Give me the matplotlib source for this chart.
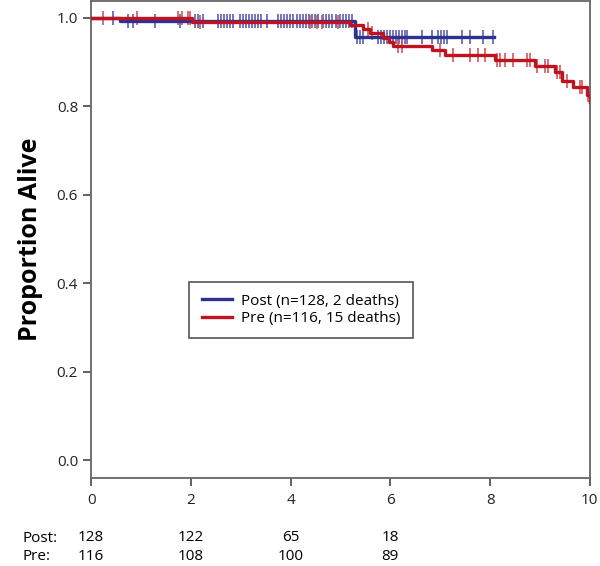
import numpy as np
import matplotlib as mpl
mpl.use('Agg')
import matplotlib.pyplot as plt

plt.rcParams['font.family'] = ['Open Sans', 'DejaVu Sans']

# Kaplan-Meier steps (time in years, survival after the step)
post_times = [0.0, 0.58, 5.29, 8.08]
post_surv = [1.0, 0.992, 0.956, 0.956]
pre_times = [0.0, 2.03, 5.19, 5.45, 5.59, 5.85, 5.98, 6.05, 6.83, 7.09, 8.10,
             8.90, 9.30, 9.44, 9.66, 9.94, 10.0]
pre_surv = [1.0, 0.991, 0.982, 0.973, 0.964, 0.953, 0.944, 0.935, 0.926, 0.915,
            0.904, 0.890, 0.876, 0.857, 0.843, 0.826, 0.810]

# censoring marks
post_cens = [0.44, 0.74, 0.84, 1.28, 1.78, 2.08, 2.14, 2.24, 2.55, 2.61, 2.67,
             2.73, 2.79, 2.85, 2.99, 3.05, 3.11, 3.17, 3.23, 3.29, 3.35, 3.41,
             3.53, 3.75, 3.81, 3.87, 3.93, 3.99, 4.05, 4.13, 4.19, 4.25, 4.31,
             4.37, 4.43, 4.49, 4.55, 4.65, 4.71, 4.77, 4.83, 4.91, 4.99, 5.05,
             5.11, 5.17, 5.23, 5.33, 5.39, 5.45, 5.75, 5.81, 5.87, 5.93, 5.99,
             6.05, 6.11, 6.17, 6.23, 6.29, 6.33, 6.63, 6.83, 6.95, 7.01, 7.07,
             7.13, 7.43, 7.60, 7.86, 8.06]
pre_cens = [0.24, 0.92, 1.74, 1.82, 1.94, 1.98, 2.18, 4.39, 4.53, 4.63, 4.95,
            5.55, 5.63, 6.15, 6.23, 6.99, 7.25, 7.60, 7.76, 7.90, 8.14, 8.20,
            8.30, 8.46, 8.74, 8.80, 8.94, 9.10, 9.16, 9.34, 9.40, 9.54, 9.80,
            9.84, 9.96]

# numbers at risk
risk_x = [0, 2, 4, 6]
post_risk = [128, 122, 65, 18]
pre_risk = [116, 108, 100, 89]

blue = '#2e3192'
red = '#c1121f'


def surv_at(times, surv, t):
    idx = np.searchsorted(times, t, side='right') - 1
    return np.array(surv)[idx]


fig = plt.figure(figsize=(6.0, 5.66), dpi=100)
ax = fig.add_axes([0.152, 0.156, 0.831, 0.842])

# censor ticks (drawn under the lines)
ax.plot(post_cens, surv_at(post_times, post_surv, post_cens), ls='none',
        marker='|', ms=10, mew=1.4, color='#5a5fb0', alpha=0.85, zorder=2)
ax.plot(pre_cens, surv_at(pre_times, pre_surv, pre_cens), ls='none',
        marker='|', ms=10, mew=1.4, color='#d0565c', alpha=0.85, zorder=2)

ax.step(post_times, post_surv, where='post', color=blue, lw=2.4, zorder=3,
        label='Post (n=128, 2 deaths)')
ax.step(pre_times, pre_surv, where='post', color=red, lw=2.4, zorder=4,
        label='Pre (n=116, 15 deaths)')

ax.set_xlim(0, 10)
ax.set_ylim(-0.039, 1.037)
ax.set_xticks([0, 2, 4, 6, 8, 10])
ax.set_yticks([0.0, 0.2, 0.4, 0.6, 0.8, 1.0])
ax.set_yticklabels(['0.0', '0.2', '0.4', '0.6', '0.8', '1.0'])
ax.tick_params(axis='both', labelsize=11, width=1.3, length=6, color='#555555',
               labelcolor='#222222')
ax.tick_params(axis='x', pad=5)
for s in ax.spines.values():
    s.set_color('#666666')
    s.set_linewidth(1.3)

ax.set_ylabel('Proportion Alive', fontsize=18, fontweight='bold', labelpad=10)

leg = ax.legend(loc='center', bbox_to_anchor=(0.421, 0.352), fontsize=11,
                fancybox=False, framealpha=1, edgecolor='#555555',
                handlelength=2.0, handletextpad=0.6, borderpad=0.8,
                labelspacing=0.15)
leg.get_frame().set_linewidth(1.2)

# numbers at risk table
trans = ax.get_xaxis_transform()
fig.text(0.037, 1 - 538 / 566, 'Post:', fontsize=11, va='center', ha='left')
fig.text(0.037, 1 - 557 / 566, 'Pre:', fontsize=11, va='center', ha='left')
for x, p, q in zip(risk_x, post_risk, pre_risk):
    ax.text(x, -0.126, str(p), transform=trans, fontsize=11, ha='center', va='center')
    ax.text(x, -0.166, str(q), transform=trans, fontsize=11, ha='center', va='center')

fig.savefig('out.png', dpi=100)
